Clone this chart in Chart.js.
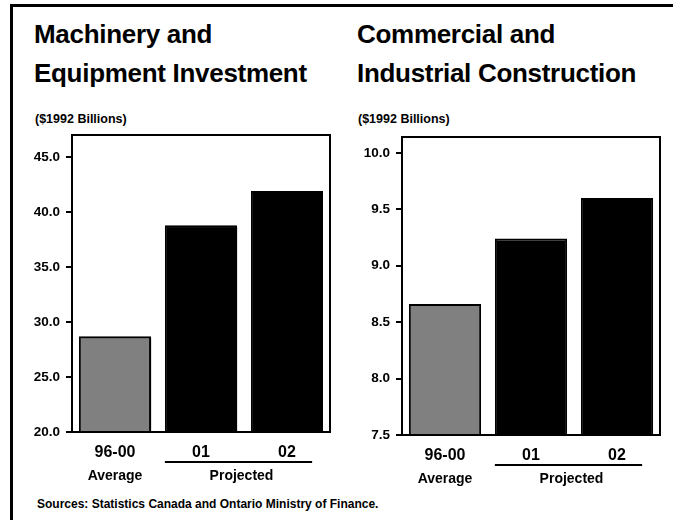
<!DOCTYPE html>
<html>
<head>
<meta charset="utf-8">
<script src="https://cdn.jsdelivr.net/npm/chart.js@4"></script>
<style>
  html, body { margin: 0; padding: 0; background: #fff; }
  body { width: 673px; height: 520px; position: relative; overflow: hidden;
         font-family: "Liberation Sans", Arial, Helvetica, sans-serif; font-weight: bold; color: #000; }
  .frame { position: absolute; left: 10px; top: 4px; width: 700px; height: 600px;
           border-left: 3px solid #000; border-top: 3px solid #000; }
  .title { position: absolute; font-size: 26px; line-height: 39px; letter-spacing: -0.3px; white-space: nowrap; }
  .unit { position: absolute; font-size: 12.5px; line-height: 14px; white-space: nowrap; }
  .source { position: absolute; left: 37px; top: 497px; font-size: 12px; line-height: 14px; white-space: nowrap; }
  canvas { position: absolute; }
</style>
</head>
<body>
<div class="frame"></div>
<div class="title" style="left:34px; top:15px;">Machinery and<br>Equipment Investment</div>
<div class="title" style="left:357px; top:15px;">Commercial and<br>Industrial Construction</div>
<div class="unit" style="left:35px; top:112px;">($1992 Billions)</div>
<div class="unit" style="left:358px; top:112px;">($1992 Billions)</div>
<div class="source">Sources: Statistics Canada and Ontario Ministry of Finance.</div>

<div style="position:absolute; left:0; top:120px; width:345px; height:380px;"><canvas id="machinery"></canvas></div>
<div style="position:absolute; left:330px; top:120px; width:345px; height:380px;"><canvas id="construction"></canvas></div>

<script>
// Categories and groupings shared by both panels
const categories = ['96-00', '01', '02'];
const groupLabels = ['Average', 'Projected'];

// Machinery and equipment investment, $1992 billions
const machineryValues = [28.7, 38.8, 41.9];
const machineryTicks = { min: 20, max: 47, step: 5 };

// Commercial and industrial construction, $1992 billions
const constructionValues = [8.66, 9.24, 9.6];
const constructionTicks = { min: 7.5, max: 10.14, step: 0.5 };

const barColors = ['#808080', '#000000', '#000000'];
const FONT = '"Liberation Sans", Arial, Helvetica, sans-serif';

// Offset drop shadow under the bars (registered first so it is removed before the box is drawn)
const barShadow = {
  id: 'barShadow',
  beforeDatasetsDraw(chart) {
    const ctx = chart.ctx;
    ctx.save();
    ctx.shadowColor = '#000';
    ctx.shadowOffsetX = 2;
    ctx.shadowOffsetY = 2;
    ctx.shadowBlur = 0;
  },
  afterDatasetsDraw(chart) {
    chart.ctx.restore();
  }
};

// Box around the plot area
const frameBox = {
  id: 'frameBox',
  afterDatasetsDraw(chart) {
    const { ctx, chartArea: a } = chart;
    ctx.save();
    ctx.shadowColor = 'transparent';
    ctx.strokeStyle = '#000';
    ctx.lineWidth = 2;
    ctx.strokeRect(a.left, a.top, a.right - a.left, a.bottom - a.top);
    ctx.restore();
  }
};

// "Average" under the first bar; "Projected" with a rule under the two projected bars
const groupAxis = {
  id: 'groupAxis',
  afterDraw(chart) {
    const { ctx } = chart;
    const x = chart.scales.x;
    const base = chart.chartArea.bottom;
    const meta = chart.getDatasetMeta(0);
    const half = meta.data[1].width / 2;
    ctx.save();
    ctx.fillStyle = '#000';
    ctx.textAlign = 'center';
    ctx.textBaseline = 'middle';
    ctx.font = 'bold 14px ' + FONT;
    ctx.fillText(groupLabels[0], x.getPixelForValue(0), base + 44);
    const x1 = x.getPixelForValue(1) - half;
    const x2 = x.getPixelForValue(2) + half - 11;
    ctx.fillRect(x1, base + 29, x2 - x1, 2);
    ctx.fillText(groupLabels[1], (x1 + x2) / 2 + 3, base + 44);
    ctx.restore();
  }
};

function makeChart(id, values, range, padTop, xHeight, withShadow) {
  const plugins = withShadow ? [barShadow, frameBox, groupAxis] : [frameBox, groupAxis];
  return new Chart(document.getElementById(id), {
    type: 'bar',
    data: {
      labels: categories,
      datasets: [{
        data: values,
        backgroundColor: barColors,
        borderColor: '#000',
        borderWidth: 2,
        borderSkipped: false,
        barPercentage: 0.84,
        categoryPercentage: 1
      }]
    },
    options: {
      responsive: true,
      maintainAspectRatio: false,
      animation: false,
      events: [],
      layout: { padding: { left: 0, top: padTop, right: 15, bottom: 0 } },
      plugins: { legend: { display: false }, tooltip: { enabled: false }, title: { display: false } },
      scales: {
        x: {
          grid: { display: false, drawTicks: false },
          border: { display: false },
          ticks: { color: '#000', padding: 11, font: { family: FONT, size: 16, weight: 'bold' } },
          afterFit(scale) { scale.height = xHeight; }
        },
        y: {
          min: range.min,
          max: range.max,
          grid: { display: true, drawOnChartArea: false, drawTicks: true, tickLength: 6, color: '#000', lineWidth: 2 },
          border: { display: false },
          ticks: {
            stepSize: range.step,
            includeBounds: false,
            color: '#000',
            padding: 6,
            font: { family: FONT, size: 13.5, weight: 'bold' },
            callback: v => Number(v).toFixed(1)
          },
          afterFit(scale) { scale.width = 72; }
        }
      }
    },
    plugins
  });
}

makeChart('machinery', machineryValues, machineryTicks, 15, 68, true);
makeChart('construction', constructionValues, constructionTicks, 17, 65, false);
</script>
</body>
</html>
